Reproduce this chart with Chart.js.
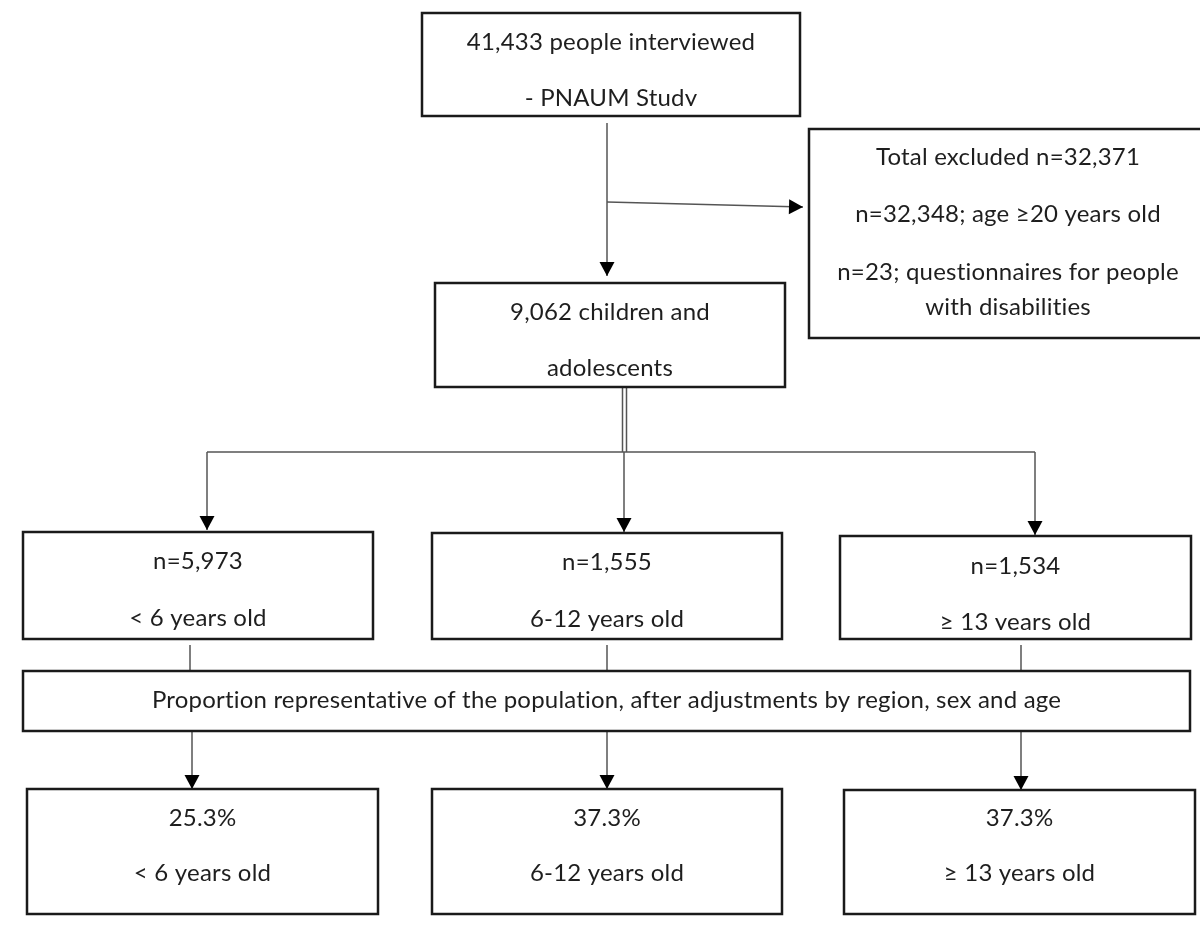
<!DOCTYPE html>
<html>
<head>
<meta charset="utf-8">
<script src="https://cdn.jsdelivr.net/npm/chart.js@4.4.1/dist/chart.umd.min.js"></script>
<style>
  body { margin: 0; background: #fff; }
  canvas { display: block; }
</style>
</head>
<body>
<canvas id="flow" width="1200" height="925"></canvas>
<script>
// texts of the flowchart, one small array per box
const topLines = ['41,433 people interviewed', '- PNAUM Study']
const excludedLines = ['Total excluded n=32,371', 'n=32,348; age \u226520 years old', 'n=23; questionnaires for people', 'with disabilities']
const sampleLines = ['9,062 children and', 'adolescents']
const ageGroups = ['< 6 years old', '6-12 years old', '\u2265 13 years old']
const groupCounts = ['n=5,973', 'n=1,555', 'n=1,534']
const groupShares = ['25.3%', '37.3%', '37.3%']
const adjustLines = ['Proportion representative of the population, after adjustments by region, sex and age']

// layout (in scale units, x 0..1200, y 0..925 top down)
const boxes = [
  { lines: topLines, rect: [422, 13, 800, 116], rows: [42, 98], clip: 106 },
  { lines: excludedLines, rect: [809, 129, 1207, 338], rows: [157, 214, 272, 307] },
  { lines: sampleLines, rect: [435, 283, 785, 387], rows: [312, 368] },
  { lines: [groupCounts[0], ageGroups[0]], rect: [23, 532, 373, 639], rows: [561, 618] },
  { lines: [groupCounts[1], ageGroups[1]], rect: [432, 533, 782, 639], rows: [562, 619] },
  { lines: [groupCounts[2], ageGroups[2]], rect: [840, 536, 1191, 639], rows: [566, 622], clip: 630 },
  { lines: adjustLines, rect: [23, 671, 1190, 731], rows: [700] },
  { lines: [groupShares[0], ageGroups[0]], rect: [27, 789, 378, 914], rows: [818, 873] },
  { lines: [groupShares[1], ageGroups[1]], rect: [432, 789, 782, 914], rows: [818, 873] },
  { lines: [groupShares[2], ageGroups[2]], rect: [844, 790, 1195, 914], rows: [818, 873] }
]

const links = [
  { pts: [[607, 123], [607, 276]], arrow: true },
  { pts: [[607, 202], [803, 207]], arrow: true },
  { pts: [[622.5, 387], [622.5, 452]] },
  { pts: [[626.5, 387], [626.5, 452]] },
  { pts: [[207, 452], [1035, 452]] },
  { pts: [[207, 452], [207, 530]], arrow: true },
  { pts: [[624, 452], [624, 532]], arrow: true },
  { pts: [[1035, 452], [1035, 535]], arrow: true },
  { pts: [[190, 645], [190, 671]] },
  { pts: [[607, 645], [607, 671]] },
  { pts: [[1021, 645], [1021, 671]] },
  { pts: [[192, 731], [192, 789]], arrow: true },
  { pts: [[607, 731], [607, 789]], arrow: true },
  { pts: [[1021, 731], [1021, 790]], arrow: true }
]

const FONT = '24px Lato, "Open Sans", sans-serif'

let datasets = links.map(link => ({
  data: link.pts.map(p => ({ x: p[0], y: p[1] })),
  showLine: true,
  borderColor: '#555',
  borderWidth: 1.5,
  pointRadius: 0,
  fill: false,
  tension: 0
}))

const boxPlugin = {
  id: 'boxes',
  afterDatasetsDraw: chart => {
    const ctx = chart.ctx
    const sx = chart.scales.x
    const sy = chart.scales.y
    const px = v => sx.getPixelForValue(v)
    const py = v => sy.getPixelForValue(v)

    // arrow heads
    ctx.save()
    ctx.fillStyle = '#000'
    links.forEach(link => {
      if (!link.arrow) return
      let a = link.pts[link.pts.length - 2]
      let b = link.pts[link.pts.length - 1]
      let x1 = px(a[0]), y1 = py(a[1]), x2 = px(b[0]), y2 = py(b[1])
      let ang = Math.atan2(y2 - y1, x2 - x1)
      ctx.translate(x2, y2)
      ctx.rotate(ang)
      ctx.beginPath()
      ctx.moveTo(0, 0)
      ctx.lineTo(-14, -7.5)
      ctx.lineTo(-14, 7.5)
      ctx.closePath()
      ctx.fill()
      ctx.rotate(-ang)
      ctx.translate(-x2, -y2)
    })
    ctx.restore()

    // boxes and their texts
    boxes.forEach(box => {
      let x0 = px(box.rect[0]), y0 = py(box.rect[1])
      let x1 = px(box.rect[2]), y1 = py(box.rect[3])
      ctx.save()
      ctx.fillStyle = '#fff'
      ctx.fillRect(x0, y0, x1 - x0, y1 - y0)
      ctx.lineWidth = 2.5
      ctx.strokeStyle = '#1a1a1a'
      ctx.strokeRect(x0, y0, x1 - x0, y1 - y0)
      if (box.clip) {
        // the source cuts the descenders of its last line
        ctx.beginPath()
        ctx.rect(x0, y0, x1 - x0, py(box.clip) - y0)
        ctx.clip()
      }
      ctx.fillStyle = '#1e1e1e'
      ctx.font = FONT
      ctx.letterSpacing = '0.2px' // also stops the "ti" ligature
      ctx.textAlign = 'center'
      ctx.textBaseline = 'middle'
      let cx = (x0 + x1) / 2
      box.lines.forEach((line, i) => {
        ctx.fillText(line, cx, py(box.rows[i]))
      })
      ctx.restore()
    })
  }
}

new Chart(document.getElementById('flow'), {
  type: 'scatter',
  data: { datasets: datasets },
  plugins: [boxPlugin],
  options: {
    responsive: false,
    animation: false,
    events: [],
    layout: { padding: 0 },
    plugins: {
      legend: { display: false },
      tooltip: { enabled: false }
    },
    scales: {
      x: { type: 'linear', min: 0, max: 1200, display: false },
      y: { type: 'linear', min: 0, max: 925, reverse: true, display: false }
    }
  }
})
</script>
</body>
</html>
